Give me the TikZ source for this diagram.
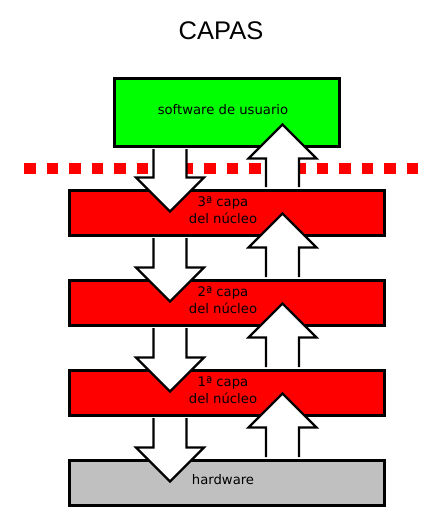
\documentclass[tikz,border=0pt]{standalone}
\usepackage{fontspec}
\setmainfont{DejaVu Sans}
\newfontfamily\titlefont{Liberation Sans}
\usetikzlibrary{calc}
\definecolor{hwgray}{RGB}{192,192,192}
\tikzset{
  box/.style={draw,line width=3pt,inner sep=0pt,minimum width=315pt,minimum height=45pt},
  boxtext/.style={font=\fontsize{13.2}{17}\selectfont,align=center,xshift=-3.5pt,yshift=2.5pt},
  blockarrow/.style={draw,line width=2.2pt,fill=white,line join=miter},
}
% block arrow going down from box #1 into box #2
\newcommand\blockdown[2]{%
  \coordinate (s) at (#1.south -| dn);
  \coordinate (t) at (#2.north -| dn);
  \draw[blockarrow] ($(s)+(-16.5,1.5)$) -- ($(t)+(-16.5,-11)$) -- ($(t)+(-34,-11)$) -- ($(t)+(0,23)$)
    -- ($(t)+(34,-11)$) -- ($(t)+(16.5,-11)$) -- ($(s)+(16.5,1.5)$);}
% block arrow going up from box #1 into box #2
\newcommand\blockup[2]{%
  \coordinate (s) at (#1.north -| up);
  \coordinate (t) at (#2.south -| up);
  \draw[blockarrow] ($(s)+(-16.5,-1.5)$) -- ($(t)+(-16.5,11)$) -- ($(t)+(-34,11)$) -- ($(t)+(0,-23)$)
    -- ($(t)+(34,11)$) -- ($(t)+(16.5,11)$) -- ($(s)+(16.5,-1.5)$);}
\begin{document}
\begin{tikzpicture}[x=1pt,y=-1pt]
\useasboundingbox (0,0) rectangle (446,531);
\node[font=\titlefont\fontsize{25.5}{30}\selectfont] (title) at (221,31) {CAPAS};

% separation line between user and kernel
\draw[red,line width=11pt,dash pattern=on 11.5pt off 11pt] (24,168.5) -- (418,168.5);

\coordinate (dn) at (170,0);
\coordinate (up) at (282.5,0);

\node[box,fill=green,minimum width=225pt,minimum height=68pt,label={[boxtext]center:software de usuario}] (soft) at (226.5,112) {};
\node[box,fill=red,label={[boxtext]center:3ª capa\\del núcleo}] (L3) at (226.5,212.5) {};
\node[box,fill=red,label={[boxtext]center:2ª capa\\del núcleo}] (L2) at (226.5,302.5) {};
\node[box,fill=red,label={[boxtext]center:1ª capa\\del núcleo}] (L1) at (226.5,392.5) {};
\node[box,fill=hwgray,label={[boxtext]center:hardware}] (hw) at (226.5,482.5) {};

\blockdown{soft}{L3}
\blockdown{L3}{L2}
\blockdown{L2}{L1}
\blockdown{L1}{hw}
\blockup{L3}{soft}
\blockup{L2}{L3}
\blockup{L1}{L2}
\blockup{hw}{L1}
\end{tikzpicture}
\end{document}
